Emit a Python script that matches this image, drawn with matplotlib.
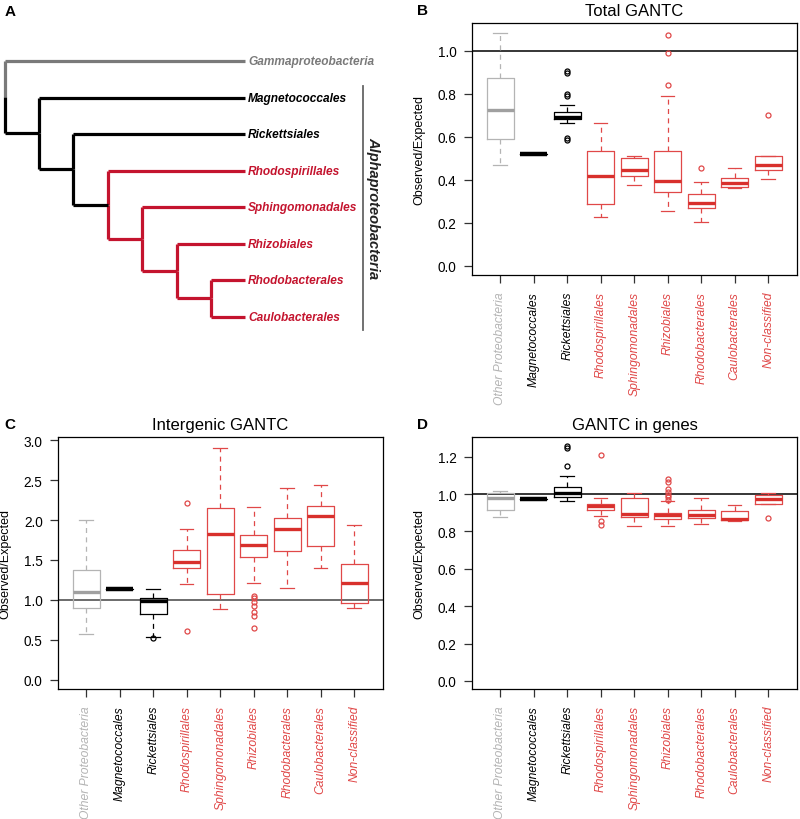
import matplotlib
matplotlib.use('Agg')
import matplotlib.pyplot as plt

plt.rcParams['font.family'] = ['Liberation Sans', 'DejaVu Sans']

# ---- datos ----
grupos = ['Other Proteobacteria', 'Magnetococcales', 'Rickettsiales', 'Rhodospirillales',
          'Sphingomonadales', 'Rhizobiales', 'Rhodobacterales', 'Caulobacterales', 'Non-classified']
GRIS, NEGRO, ROJO = '#b4b4b4', '#000000', '#e04848'
col_grupo = [GRIS, NEGRO, NEGRO, ROJO, ROJO, ROJO, ROJO, ROJO, ROJO]
col_mediana = ['#a0a0a0', NEGRO, NEGRO] + ['#d8302c'] * 6

# Total GANTC
total_lo = [0.468, 0.518, 0.665, 0.226, 0.378, 0.254, 0.206, 0.364, 0.405]
total_q1 = [0.592, 0.518, 0.684, 0.288, 0.420, 0.343, 0.268, 0.366, 0.447]
total_med = [0.726, 0.518, 0.693, 0.420, 0.448, 0.395, 0.293, 0.386, 0.467]
total_q3 = [0.874, 0.518, 0.715, 0.535, 0.502, 0.536, 0.332, 0.408, 0.512]
total_hi = [1.085, 0.518, 0.746, 0.664, 0.513, 0.792, 0.392, 0.454, 0.512]
total_out = [[], [], [0.907, 0.896, 0.800, 0.790, 0.594, 0.586], [], [],
             [1.076, 0.992, 0.842], [0.457], [], [0.704]]

# Intergenic GANTC
inter_lo = [0.573, 1.142, 0.532, 1.196, 0.884, 1.212, 1.150, 1.395, 0.893]
inter_q1 = [0.897, 1.142, 0.826, 1.399, 1.067, 1.532, 1.615, 1.677, 0.963]
inter_med = [1.104, 1.142, 0.980, 1.478, 1.827, 1.681, 1.889, 2.046, 1.208]
inter_q3 = [1.374, 1.142, 1.021, 1.623, 2.154, 1.810, 2.022, 2.179, 1.448]
inter_hi = [1.996, 1.142, 1.133, 1.893, 2.902, 2.163, 2.403, 2.437, 1.939]
inter_out = [[], [], [0.52], [2.213, 0.606], [],
             [1.050, 1.017, 0.967, 0.917, 0.851, 0.793, 0.648], [], [], []]

# GANTC in genes
genes_lo = [0.877, 0.973, 0.964, 0.882, 0.830, 0.830, 0.837, 0.855, 0.948]
genes_q1 = [0.916, 0.973, 0.982, 0.916, 0.878, 0.868, 0.871, 0.859, 0.948]
genes_med = [0.978, 0.973, 1.003, 0.936, 0.891, 0.886, 0.889, 0.868, 0.975]
genes_q3 = [1.003, 0.973, 1.037, 0.944, 0.978, 0.900, 0.914, 0.907, 0.996]
genes_hi = [1.016, 0.973, 1.096, 0.977, 1.007, 0.960, 0.977, 0.941, 1.003]
genes_out = [[], [], [1.255, 1.244, 1.150], [1.207, 0.855, 0.834], [],
             [1.082, 1.064, 1.025, 1.011, 0.996, 0.982, 0.969], [], [], [0.873]]

# arbol (escalera): hojas de arriba a abajo
hojas = ['Gammaproteobacteria', 'Magnetococcales', 'Rickettsiales', 'Rhodospirillales',
         'Sphingomonadales', 'Rhizobiales', 'Rhodobacterales', 'Caulobacterales']
ROJO_ARBOL, GRIS_ARBOL = '#c4142e', '#7a7a7a'
col_hojas = [GRIS_ARBOL, NEGRO, NEGRO] + [ROJO_ARBOL] * 5
# color de la rama que entra a cada nodo interno (nodo k une hoja k con nodo k+1)
col_nodos = [None, NEGRO, NEGRO, NEGRO, ROJO_ARBOL, ROJO_ARBOL, ROJO_ARBOL]

fig = plt.figure(figsize=(8, 8.2), dpi=100)

# ---- A: arbol ----
axA = fig.add_axes([0, 1 - 340 / 820, 0.5, 340 / 820])
axA.set_xlim(-0.131, 11.497)
axA.set_ylim(7.616, -1.699)
axA.axis('off')
prof_hoja = len(hojas) - 1
lw_arbol = 2.3


def dibuja(k):
    """Dibuja el nodo interno k y devuelve su posicion vertical."""
    if k == len(hojas) - 2:
        y_hijo = k + 1
        axA.plot([k, prof_hoja], [y_hijo, y_hijo], color=col_hojas[k + 1], lw=lw_arbol,
                 solid_capstyle='butt')
        col_hijo = col_hojas[k + 1]
    else:
        y_hijo = dibuja(k + 1)
        axA.plot([k, k + 1], [y_hijo, y_hijo], color=col_nodos[k + 1], lw=lw_arbol,
                 solid_capstyle='butt')
        col_hijo = col_nodos[k + 1]
    axA.plot([k, prof_hoja], [k, k], color=col_hojas[k], lw=lw_arbol, solid_capstyle='butt')
    y = (k + y_hijo) / 2
    axA.plot([k, k], [k, y], color=col_hojas[k], lw=lw_arbol, solid_capstyle='butt')
    axA.plot([k, k], [y, y_hijo], color=col_hijo, lw=lw_arbol, solid_capstyle='butt')
    return y


dibuja(0)
for i, h in enumerate(hojas):
    axA.text(prof_hoja + 0.08, i, h, color=col_hojas[i], fontsize=8.6, fontweight='bold',
             fontstyle='italic', va='center', ha='left')
axA.plot([10.42, 10.42], [0.685, 7.37], color='#666666', lw=1.3)
axA.text(10.72, 4.0, 'Alphaproteobacteria', rotation=-90, fontsize=10.5, fontweight='bold',
         fontstyle='italic', va='center', ha='center', color='#222222')


# ---- cajas ----
def cajas(ax, lo, q1, med, q3, hi, out, titulo, ylim, yticks, col_linea1):
    stats = []
    for i in range(len(grupos)):
        stats.append(dict(med=med[i], q1=q1[i], q3=q3[i], whislo=lo[i], whishi=hi[i],
                          fliers=out[i]))
    ax.axhline(1.0, color=col_linea1, lw=1.1, zorder=1)
    for i, st in enumerate(stats):
        c = col_grupo[i]
        lw_med = 3.2 if i == 1 else 2.4
        ax.bxp([st], positions=[i + 1], widths=0.8, showfliers=True, manage_ticks=False,
               boxprops=dict(color=c, lw=0.9),
               medianprops=dict(color=col_mediana[i], lw=lw_med, solid_capstyle='butt'),
               whiskerprops=dict(color=c, lw=0.9, linestyle=(0, (4, 3.5))),
               capprops=dict(color=c, lw=0.9), capwidths=0.4,
               flierprops=dict(marker='o', markersize=3.6, markerfacecolor='none',
                               markeredgecolor=c, markeredgewidth=0.9))
    ax.set_xlim(0.16, 9.86)
    ax.set_ylim(*ylim)
    ax.set_yticks(yticks)
    ax.set_yticklabels(['%.1f' % v for v in yticks])
    ax.set_xticks(range(1, len(grupos) + 1))
    ax.set_xticklabels(grupos, rotation=90, fontstyle='italic', fontsize=8.7)
    for t, c in zip(ax.get_xticklabels(), col_grupo):
        t.set_color(c)
    ax.tick_params(axis='x', length=5.5, width=0.9, pad=6, color='#333333')
    ax.tick_params(axis='y', length=5.5, width=0.9, pad=5.5, labelsize=9.8, color='#333333')
    ax.set_ylabel('Observed/Expected', fontsize=9)
    ax.yaxis.set_label_coords(-0.142, 0.5)
    for s in ax.spines.values():
        s.set_linewidth(0.9)
    ax.set_title(titulo, fontsize=12, pad=6)


izq_b, ancho = 472 / 800, 325 / 800
axB = fig.add_axes([izq_b, 1 - 276 / 820, ancho, 252 / 820])
axC = fig.add_axes([58 / 800, 1 - 690 / 820, ancho, 252 / 820])
axD = fig.add_axes([izq_b, 1 - 690 / 820, ancho, 252 / 820])

cajas(axB, total_lo, total_q1, total_med, total_q3, total_hi, total_out, 'Total GANTC',
      (-0.043, 1.13), [0, 0.2, 0.4, 0.6, 0.8, 1.0], NEGRO)
cajas(axC, inter_lo, inter_q1, inter_med, inter_q3, inter_hi, inter_out, 'Intergenic GANTC',
      (-0.117, 3.04), [0, 0.5, 1.0, 1.5, 2.0, 2.5, 3.0], '#444444')
cajas(axD, genes_lo, genes_q1, genes_med, genes_q3, genes_hi, genes_out, 'GANTC in genes',
      (-0.043, 1.305), [0, 0.2, 0.4, 0.6, 0.8, 1.0, 1.2], NEGRO)

for letra, x, y in [('A', 5, 12), ('B', 417, 11), ('C', 4, 425), ('D', 417, 425)]:
    fig.text(x / 800, 1 - y / 820, letra, fontsize=11, fontweight='bold', va='center',
             ha='left')

plt.savefig('out.png', dpi=100)
